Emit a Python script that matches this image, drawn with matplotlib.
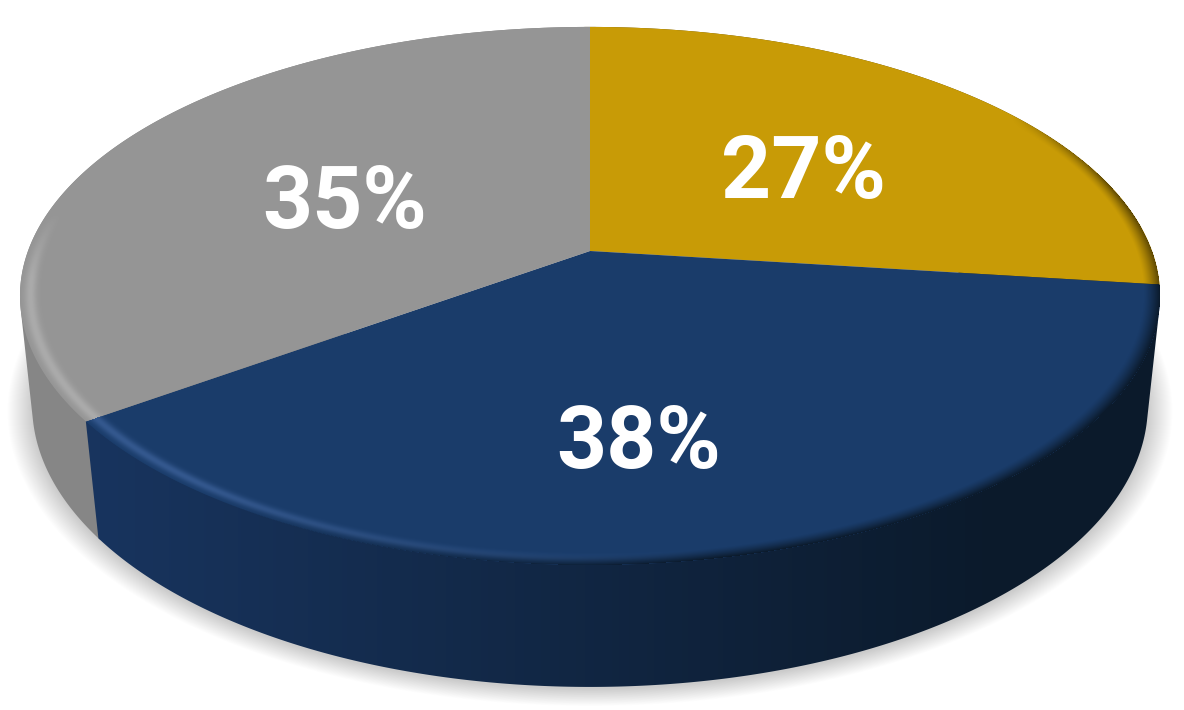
import numpy as np
import matplotlib
matplotlib.use("Agg")
import matplotlib.pyplot as plt
from matplotlib.colors import to_rgb
from matplotlib.patches import PathPatch
from matplotlib.path import Path
from matplotlib.transforms import Affine2D, Transform

# ---- data ----
categories = ["A", "B", "C"]
shares = [27, 38, 35]
labels = ["27%", "38%", "35%"]

# ---- style ----
top_colors = ["#C89B06", "#1A3C6A", "#959595"]
side_left = ["#7d6104", "#18345e", "#868686"]
side_right = ["#5e4803", "#0b1a2b", "#7c7c7c"]
rim_colors = ["#a07c05", "#34588e", "#ababab"]
label_xy = [(803, 174), (639, 444), (345, 204)]
K = 0.167
CX = 590.0
TOP = dict(a=562.0, y0=251.0, b=261.5)
BOT = dict(a=550.0, y0=358.0, b=274.0)
W, H = 1184, 710


def project(u, v, a, y0, b, cx=CX):
    w = 1 + K * v
    return cx + a * u / w, y0 - b * v / w


def convex_hull(points):
    pts = sorted(map(tuple, points))

    def half(seq):
        out = []
        for p in seq:
            while len(out) > 1 and ((out[-1][0] - out[-2][0]) * (p[1] - out[-2][1])
                                    - (out[-1][1] - out[-2][1]) * (p[0] - out[-2][0])) <= 0:
                out.pop()
            out.append(p)
        return out[:-1]

    return np.array(half(pts) + half(pts[::-1]))


class Perspective(Transform):
    input_dims = output_dims = 2
    is_affine = False

    def transform_non_affine(self, values):
        values = np.asarray(values, dtype=float)
        x, y = project(values[:, 0], values[:, 1], **TOP)
        return np.column_stack([x, y])

    def transform_path_non_affine(self, path):
        big = path.transformed(Affine2D().scale(2000))
        polys = big.to_polygons(closed_only=True)
        return Path(self.transform_non_affine(polys[0] / 2000), closed=True)


fig = plt.figure(figsize=(W / 100, H / 100), dpi=100, facecolor="white")
ax = fig.add_axes([0, 0, 1, 1])

fracs = np.array(shares, dtype=float) / sum(shares)
edges = np.concatenate([[0], np.cumsum(fracs)]) * 2 * np.pi

# soft ground shadow
theta_all = np.linspace(0, 2 * np.pi, 721)
for grow in np.linspace(24, 0, 26):
    g = grow / 560
    x, y = project(np.sin(theta_all) * (1 + g), np.cos(theta_all) * (1 + g), **BOT)
    ax.fill(x, y + 2, color="black", alpha=0.0085, lw=0, zorder=1)

# side wall: a horizontal gradient clipped to the hull of each slice's wall
xfrac = np.clip((np.arange(W) + 0.5 - 100) / 900, 0, 1)[None, :, None]
paint_order = [2, 0, 1]
for rank, i in enumerate(paint_order):
    pad = 0.012 if i != 1 else 0.0
    th = np.linspace(edges[i] - pad, edges[i + 1] + pad, int(shares[i] * 10) + 2)
    tx, ty = project(np.sin(th), np.cos(th), **TOP)
    bx, by = project(np.sin(th), np.cos(th), **BOT)
    hull = convex_hull(np.column_stack([np.r_[tx, bx], np.r_[ty, by]]))
    c0, c1 = np.array(to_rgb(side_left[i])), np.array(to_rgb(side_right[i]))
    grad = c0 + (c1 - c0) * xfrac
    im = ax.imshow(np.repeat(grad, H, axis=0), extent=(0, W, H, 0), aspect="auto",
                   interpolation="nearest", zorder=2 + rank * 0.1)
    im.set_clip_path(PathPatch(Path(hull, closed=True), transform=ax.transData))

# top face: the pie itself, pushed through the perspective
wedges, _ = ax.pie(shares, colors=top_colors, startangle=90, counterclock=False,
                   radius=1.0, wedgeprops=dict(linewidth=0))
persp = Perspective()
for w in wedges:
    w.set_transform(persp + ax.transData)
    w.set_zorder(3)

# bevel on the rim of the top face, computed for every pixel
X, Y = np.meshgrid(np.arange(W) + 0.5, np.arange(H) + 0.5)
q = (TOP["y0"] - Y) / TOP["b"]
v = q / (1 - K * q)
u = (X - CX) * (1 + K * v) / TOP["a"]
r = np.hypot(u, v)
theta = np.mod(np.arctan2(u, v), 2 * np.pi)
slice_id = np.clip(np.searchsorted(edges, theta, side="right") - 1, 0, len(shares) - 1)
f = np.clip((X - 200) / 520, 0, 1)
front = np.clip((0.15 - v) / 0.25, 0, 1)
hi = (1 - f) * front * np.exp(-((r - 0.982) / 0.010) ** 2)
shade = f * np.clip((r - 0.972) / 0.028, 0, 1) ** 1.3
shade = np.where(slice_id == 1, shade, shade * np.clip((u - 0.82) / 0.15, 0, 1))
alpha = np.clip(hi + shade, 0, 1) * (r <= 1)
rim = np.array([to_rgb(c) for c in rim_colors])[slice_id]
dark = np.array([to_rgb(c) for c in side_right])[slice_id]
weight = (hi / np.maximum(hi + shade, 1e-6))[..., None]
rgba = np.dstack([rim * weight + dark * (1 - weight), alpha])
ax.imshow(rgba, extent=(0, W, H, 0), aspect="auto", interpolation="nearest", zorder=4)

for text, (x, y) in zip(labels, label_xy):
    ax.text(x, y, text, color="white", fontsize=63, fontweight="bold",
            family="Roboto", ha="center", va="center", zorder=6)

ax.set_xlim(0, W)
ax.set_ylim(H, 0)
ax.set_aspect("auto")
ax.axis("off")
fig.savefig("out.png", dpi=100, facecolor="white")
